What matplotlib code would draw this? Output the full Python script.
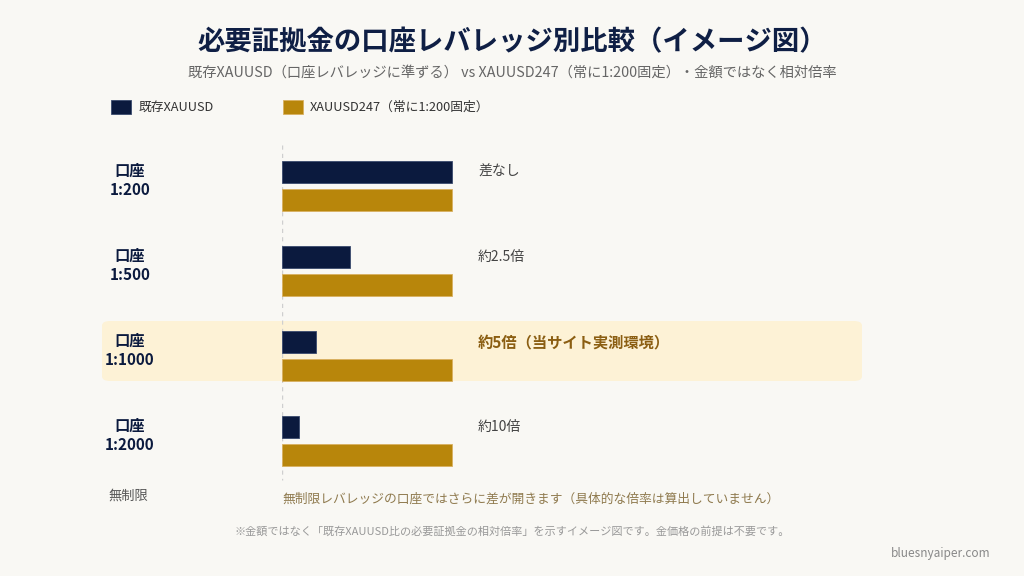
import numpy as np
import matplotlib.pyplot as plt
from matplotlib.patches import FancyBboxPatch, Rectangle

plt.rcParams['font.family'] = ['Noto Sans CJK JP', 'DejaVu Sans']

# data: relative required margin (XAUUSD247 = 1.0)
accounts = ['口座\n1:200', '口座\n1:500', '口座\n1:1000', '口座\n1:2000']
existing = [1.0, 0.4, 0.2, 0.1]
xau247 = [1.0, 1.0, 1.0, 1.0]
notes = ['差なし', '約2.5倍', '約5倍（当サイト実測環境）', '約10倍']
highlight = 2

navy = '#0b1a3e'
gold = '#b8860b'
bg = '#f9f8f4'
W, H = 1024, 576

fig = plt.figure(figsize=(W / 100, H / 100), dpi=100)
fig.patch.set_facecolor(bg)

def fx(px):
    return px / W

def fy(py):
    return 1 - py / H

# axes: 0 at x=282px, 1.0 = 170px ; rows 85px apart
ax = fig.add_axes([fx(282), fy(520), fx(580), 390 / H])
ax.set_facecolor('none')
ax.set_xlim(0, 580 / 170)
top = -56 / 85
ax.set_ylim(top + 390 / 85, top)
ax.axis('off')

# highlight band behind the 1:1000 row
band = FancyBboxPatch((fx(102), fy(381)), fx(760), 60 / H,
                      boxstyle='round,pad=0,rounding_size=0.008',
                      transform=fig.transFigure, facecolor='#fdf2d6',
                      edgecolor='none', zorder=0, clip_on=False)
ax.add_patch(band)

y = np.arange(len(accounts))
off = 14 / 85
bh = 22 / 85
ax.barh(y - off, existing, height=bh, color=navy, edgecolor='#3a4a6e', linewidth=0.6, zorder=3)
ax.barh(y + off, xau247, height=bh, color=gold, edgecolor='#d9b060', linewidth=0.6, zorder=3)
ax.plot([0, 0], [top + 15 / 85, top + 350 / 85], ls=(0, (3, 3)), color='#cfcfcf', lw=1, zorder=1)

for i, lab in enumerate(accounts):
    ax.text(-152 / 170, i - 6 / 85, lab, ha='center', va='center', fontsize=11,
            fontweight='bold', color=navy, linespacing=1.25, zorder=4)
    if i == highlight:
        ax.text(196 / 170, i - off, notes[i], ha='left', va='center', fontsize=11,
                fontweight='bold', color='#8b5e12', zorder=4)
    else:
        ax.text(196 / 170, i - off, notes[i], ha='left', va='center', fontsize=10,
                color='#444444', zorder=4)

# title and subtitle
fig.text(0.5, fy(42), '必要証拠金の口座レバレッジ別比較（イメージ図）', ha='center', va='center',
         fontsize=19.7, fontweight='bold', color='#0f1f45')
fig.text(0.5, fy(73), '既存XAUUSD（口座レバレッジに準ずる） vs XAUUSD247（常に1:200固定）・金額ではなく相対倍率',
         ha='center', va='center', fontsize=10.3, color='#666666')

# legend
fig.patches.append(Rectangle((fx(111), fy(114)), fx(20), 14 / H, transform=fig.transFigure,
                             facecolor=navy, edgecolor='#3a4a6e', lw=0.6))
fig.text(fx(139), fy(107), '既存XAUUSD', ha='left', va='center', fontsize=9.2, color='#333333')
fig.patches.append(Rectangle((fx(283), fy(114)), fx(20), 14 / H, transform=fig.transFigure,
                             facecolor=gold, edgecolor='#d9b060', lw=0.6))
fig.text(fx(310), fy(107), 'XAUUSD247（常に1:200固定）', ha='left', va='center', fontsize=9.2,
         color='#333333')

# unlimited row
fig.text(fx(108), fy(496), '無制限', ha='left', va='center', fontsize=9.5, color='#555555')
fig.text(fx(282), fy(499), '無制限レバレッジの口座ではさらに差が開きます（具体的な倍率は算出していません）',
         ha='left', va='center', fontsize=9.2, color='#8f7a4e')

fig.text(0.5, fy(531), '※金額ではなく「既存XAUUSD比の必要証拠金の相対倍率」を示すイメージ図です。金価格の前提は不要です。',
         ha='center', va='center', fontsize=8, color='#999999')
fig.text(fx(990), fy(554), 'bluesnyaiper.com', ha='right', va='center', fontsize=8.5, color='#888888')

fig.savefig('out.png', dpi=100, facecolor=bg)
